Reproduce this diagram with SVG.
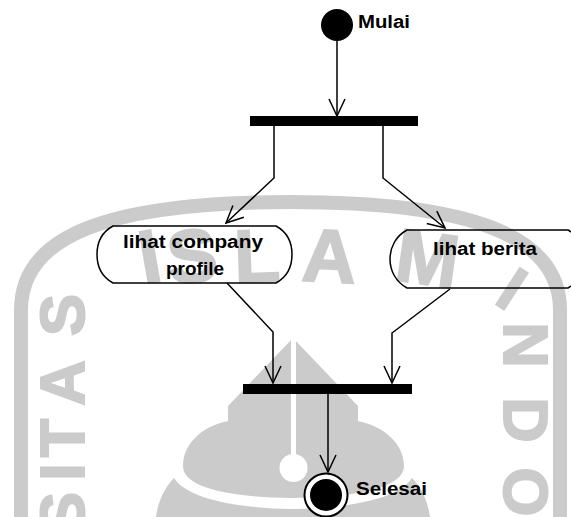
<svg xmlns="http://www.w3.org/2000/svg" width="571" height="517" viewBox="0 0 571 517">
<defs>
<style>
.wm{fill:#cbcbcb;stroke:#cbcbcb;stroke-width:2;font-family:"Liberation Sans",Arial,sans-serif;font-weight:bold}
.wmb{fill:none;stroke:#cbcbcb;stroke-width:14}
.wmf{fill:#cbcbcb}
.ln{fill:none;stroke:#000;stroke-width:1.5;marker-end:url(#arr)}
.lbl{font-family:"Liberation Sans",Arial,sans-serif;font-weight:bold;font-size:18px;fill:#000}
.act{fill:none;stroke:#000;stroke-width:1.5}
.bar{fill:#000}
</style>
<marker id="arr" markerUnits="userSpaceOnUse" markerWidth="20" markerHeight="20" refX="18" refY="10" orient="auto">
<path d="M1 2 L18 10 L1 18" fill="none" stroke="#000" stroke-width="1.5"/>
</marker>
</defs>
<rect width="571" height="517" fill="#fff"/>
<g id="watermark">
<path class="wmb" d="M21 517 V310 C21 235 110 202 290 202 C470 202 560 235 560 310 V517"/>
<text class="wm" font-size="75" text-anchor="middle" transform="translate(154,282) rotate(-10)">I</text>
<text class="wm" font-size="75" text-anchor="middle" transform="translate(195,282) rotate(-6)">S</text>
<text class="wm" font-size="75" text-anchor="middle" transform="translate(258,282) rotate(-2)">L</text>
<text class="wm" font-size="75" text-anchor="middle" transform="translate(328,282) rotate(3)">A</text>
<text class="wm" font-size="75" text-anchor="middle" transform="translate(424,284) rotate(8)">M</text>
<text class="wm" font-size="63" text-anchor="middle" transform="translate(84,315) rotate(-90)">S</text>
<text class="wm" font-size="63" text-anchor="middle" transform="translate(84,383) rotate(-90)">A</text>
<text class="wm" font-size="63" text-anchor="middle" transform="translate(84,438) rotate(-90)">T</text>
<text class="wm" font-size="63" text-anchor="middle" transform="translate(84,472) rotate(-90)">I</text>
<text class="wm" font-size="63" text-anchor="middle" transform="translate(84,513) rotate(-90)">S</text>
<text class="wm" font-size="63" text-anchor="middle" transform="translate(500,307) rotate(33)">I</text>
<text class="wm" font-size="63" text-anchor="middle" transform="translate(504,345) rotate(90)">N</text>
<text class="wm" font-size="63" text-anchor="middle" transform="translate(504,420) rotate(90)">D</text>
<text class="wm" font-size="63" text-anchor="middle" transform="translate(504,492) rotate(90)">O</text>
<path class="wmf" d="M293 338 L228 406 L228 421 C200 427 183 445 183 466 C183 484 215 497 293 498 C371 497 404 484 404 466 C404 445 386 427 358 421 L358 406 Z"/>
<path class="wmf" d="M156 517 C158 500 166 486 174 478 C186 497 230 508 293 509 C356 508 400 497 412 478 C420 486 428 500 430 517 Z"/>
<rect x="291" y="338" width="5" height="120" fill="#fff"/>
<circle cx="293.5" cy="468" r="14" fill="#fff"/>
</g>
<g id="connectors">
<path class="ln" d="M337 41 L337 116"/>
<path class="ln" d="M274 126 L274 178 L226 223"/>
<path class="ln" d="M383 126 L383 178 L445 228"/>
<path class="ln" d="M227 283 L273 332 L273 383"/>
<path class="ln" d="M450 289 L392 333 L392 383"/>
<path class="ln" d="M328 394 L328 472"/>
</g>
<g id="start">
<circle cx="337" cy="25" r="16" fill="#000"/>
<text class="lbl" font-size="17" x="358" y="28" textLength="52" lengthAdjust="spacingAndGlyphs">Mulai</text>
</g>
<g id="fork">
<rect class="bar" x="250" y="116" width="168" height="10"/>
</g>
<g id="lihat-company-profile">
<path class="act" d="M113 226 H276 C287 232 292 243 292 254.5 C292 266 287 277 276 283 H113 C102 277 97 266 97 254.5 C97 243 102 232 113 226 Z"/>
<text class="lbl" x="123" y="248" textLength="140" lengthAdjust="spacingAndGlyphs">lihat company</text>
<text class="lbl" x="166" y="275" textLength="58" lengthAdjust="spacingAndGlyphs">profile</text>
</g>
<g id="lihat-berita">
<path class="act" d="M407 230 H568 C579 236 584 247 584 259 C584 271 579 282 568 288 H407 C396 282 390 271 390 259 C390 247 396 236 407 230 Z"/>
<text class="lbl" x="433" y="255" textLength="104" lengthAdjust="spacingAndGlyphs">lihat berita</text>
</g>
<g id="join">
<rect class="bar" x="243" y="384" width="169" height="10"/>
</g>
<g id="end">
<circle cx="326" cy="495" r="21.5" fill="#fff" stroke="#000" stroke-width="2"/>
<circle cx="326" cy="495" r="16" fill="#000"/>
<text class="lbl" font-size="20" x="356" y="495" textLength="71" lengthAdjust="spacingAndGlyphs">Selesai</text>
</g>
</svg>
